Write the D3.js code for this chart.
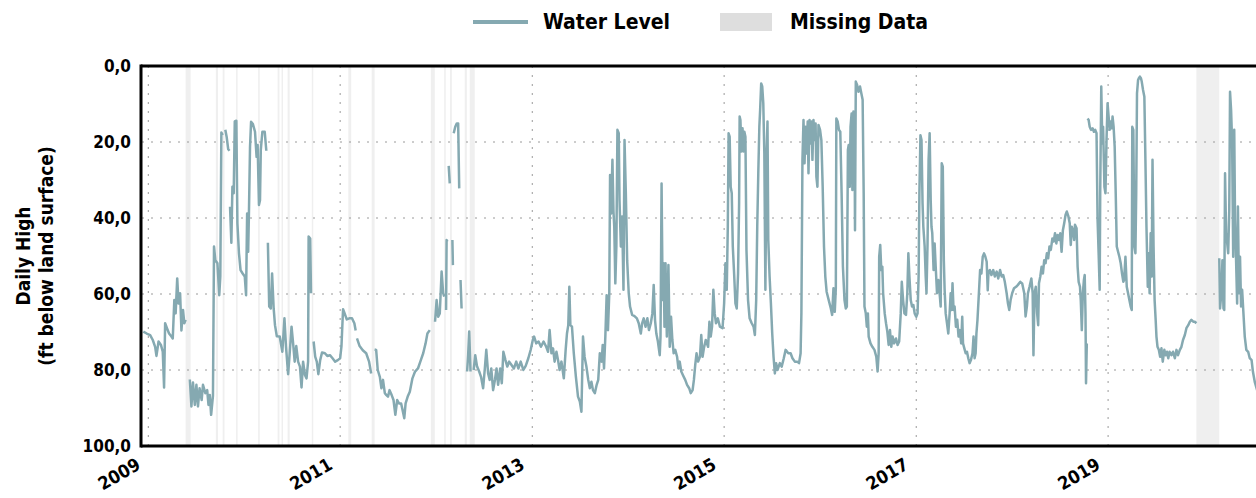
<!DOCTYPE html>
<html>
<head>
<meta charset="utf-8">
<script src="https://cdn.jsdelivr.net/npm/d3@7/dist/d3.min.js"></script>
<style>
  html, body { margin: 0; padding: 0; background: #ffffff; }
  svg { display: block; }
  text { font-family: "DejaVu Sans Condensed", "DejaVu Sans", sans-serif; font-weight: bold; fill: #000; }
</style>
</head>
<body>
<svg id="chart" width="1256" height="498"></svg>
<script>
// ---------- DATA ----------
const dates = [
"2008-12-13","2008-12-26","2009-01-08","2009-01-18","2009-01-27","2009-02-01","2009-02-09","2009-02-18","2009-02-25","2009-03-02",
"2009-03-06","2009-03-13","2009-03-21","2009-03-30","2009-04-04","2009-04-10","2009-04-15","2009-04-21","2009-04-26","2009-05-02",
"2009-05-07","2009-05-13","2009-05-18","2009-05-23","2009-06-01","2009-06-08","2009-06-14","2009-06-20","2009-06-27","2009-07-03",
"2009-07-09","2009-07-15","2009-07-23","2009-07-28","2009-08-06","2009-08-13","2009-08-18","2009-08-23","2009-08-28","2009-09-04",
"2009-09-08","2009-09-13","2009-09-21","2009-09-28","2009-10-02","2009-10-06","2009-10-11","2009-10-15","2009-10-21","2009-10-26",
"2009-11-01","2009-11-06","2009-11-07","2009-11-08","2009-11-13","2009-11-17","2009-11-22","2009-11-26","2009-12-02","2009-12-06",
"2009-12-12","2009-12-18","2009-12-26","2010-01-03","2010-01-08","2010-01-12","2010-01-16","2010-01-19","2010-01-23","2010-01-27",
"2010-02-03","2010-02-11","2010-02-17","2010-02-21","2010-02-26","2010-03-02","2010-03-05","2010-03-11","2010-03-20","2010-03-26",
"2010-03-29","2010-04-01","2010-04-06","2010-04-12","2010-04-17","2010-04-23","2010-04-28","2010-05-05","2010-05-16","2010-05-26",
"2010-06-03","2010-06-09","2010-06-17","2010-06-23","2010-06-30","2010-07-06","2010-07-12","2010-07-18","2010-07-25","2010-08-01",
"2010-08-07","2010-08-13","2010-08-20","2010-08-26","2010-09-01","2010-09-03","2010-09-09","2010-09-12","2010-09-16","2010-09-22",
"2010-09-28","2010-10-04","2010-10-10","2010-10-17","2010-10-24","2010-11-04","2010-11-13","2010-11-23","2010-12-03","2010-12-13",
"2010-12-23","2011-01-01","2011-01-06","2011-01-12","2011-01-18","2011-01-26","2011-02-05","2011-02-15","2011-02-24","2011-03-01",
"2011-03-03","2011-03-06","2011-03-16","2011-03-28","2011-04-10","2011-04-21","2011-04-29","2011-05-05","2011-05-12","2011-05-18",
"2011-05-24","2011-06-01","2011-06-07","2011-06-13","2011-06-20","2011-06-26","2011-07-02","2011-07-08","2011-07-16","2011-07-23",
"2011-07-30","2011-08-06","2011-08-13","2011-08-21","2011-08-26","2011-09-02","2011-09-07","2011-09-15","2011-09-23","2011-10-03",
"2011-10-13","2011-10-24","2011-11-04","2011-11-13","2011-11-22","2011-11-29","2011-12-08","2011-12-18","2011-12-28","2012-01-03",
"2012-01-09","2012-01-15","2012-01-22","2012-01-28","2012-02-01","2012-02-03","2012-02-08","2012-02-10","2012-02-13","2012-02-15",
"2012-02-18","2012-02-22","2012-02-26","2012-03-03","2012-03-05","2012-03-06","2012-03-08","2012-03-14","2012-03-20","2012-03-25",
"2012-03-29","2012-03-31","2012-04-03","2012-04-07","2012-04-15","2012-04-28","2012-05-02","2012-05-06","2012-05-11","2012-05-16",
"2012-05-23","2012-05-29","2012-06-05","2012-06-13","2012-06-20","2012-06-28","2012-07-04","2012-07-10","2012-07-17","2012-07-23",
"2012-07-29","2012-08-05","2012-08-12","2012-08-18","2012-08-24","2012-09-01","2012-09-07","2012-09-13","2012-09-21","2012-09-28",
"2012-10-05","2012-10-14","2012-10-23","2012-11-01","2012-11-09","2012-11-18","2012-11-28","2012-12-07","2012-12-17","2012-12-26",
"2013-01-03","2013-01-08","2013-01-16","2013-01-25","2013-02-03","2013-02-13","2013-02-23","2013-03-02","2013-03-08","2013-03-15",
"2013-03-21","2013-03-27","2013-04-03","2013-04-09","2013-04-15","2013-04-22","2013-05-01","2013-05-08","2013-05-13","2013-05-18",
"2013-05-22","2013-05-26","2013-06-01","2013-06-08","2013-06-16","2013-06-24","2013-07-01","2013-07-07","2013-07-13","2013-07-19",
"2013-07-26","2013-08-02","2013-08-08","2013-08-14","2013-08-20","2013-08-27","2013-09-03","2013-09-09","2013-09-15","2013-09-22",
"2013-09-26","2013-10-01","2013-10-06","2013-10-11","2013-10-16","2013-10-21","2013-10-24","2013-10-28","2013-11-02","2013-11-06",
"2013-11-09","2013-11-13","2013-11-17","2013-11-21","2013-11-26","2013-11-29","2013-12-04","2013-12-09","2013-12-14","2013-12-18",
"2013-12-23","2013-12-28","2014-01-03","2014-01-08","2014-01-16","2014-01-25","2014-02-03","2014-02-10","2014-02-18","2014-02-23",
"2014-03-01","2014-03-08","2014-03-15","2014-03-21","2014-03-28","2014-04-03","2014-04-08","2014-04-13","2014-04-18","2014-04-24",
"2014-05-01","2014-05-04","2014-05-08","2014-05-12","2014-05-16","2014-05-19","2014-05-23","2014-05-28","2014-06-03","2014-06-08",
"2014-06-13","2014-06-18","2014-06-23","2014-06-29","2014-07-06","2014-07-11","2014-07-16","2014-07-22","2014-07-28","2014-08-06",
"2014-08-13","2014-08-21","2014-08-27","2014-09-03","2014-09-08","2014-09-13","2014-09-18","2014-09-24","2014-10-01","2014-10-06",
"2014-10-11","2014-10-16","2014-10-23","2014-11-01","2014-11-06","2014-11-11","2014-11-16","2014-11-21","2014-11-26","2014-12-01",
"2014-12-08","2014-12-16","2014-12-26","2015-01-01","2015-01-06","2015-01-11","2015-01-15","2015-01-18","2015-01-22","2015-01-26",
"2015-01-30","2015-02-03","2015-02-08","2015-02-13","2015-02-18","2015-02-23","2015-02-27","2015-03-01","2015-03-04","2015-03-08",
"2015-03-12","2015-03-16","2015-03-19","2015-03-23","2015-03-27","2015-04-02","2015-04-08","2015-04-16","2015-04-23","2015-04-28",
"2015-05-03","2015-05-07","2015-05-11","2015-05-15","2015-05-18","2015-05-22","2015-05-26","2015-05-30","2015-06-03","2015-06-07",
"2015-06-11","2015-06-15","2015-06-18","2015-06-23","2015-06-28","2015-07-03","2015-07-08","2015-07-13","2015-07-18","2015-07-23",
"2015-08-01","2015-08-08","2015-08-16","2015-08-23","2015-09-02","2015-09-11","2015-09-18","2015-09-27","2015-10-06","2015-10-13",
"2015-10-19","2015-10-22","2015-10-26","2015-10-30","2015-11-03","2015-11-07","2015-11-11","2015-11-15","2015-11-18","2015-11-22",
"2015-11-26","2015-11-30","2015-12-03","2015-12-07","2015-12-11","2015-12-15","2015-12-18","2015-12-22","2015-12-26","2016-01-01",
"2016-01-06","2016-01-11","2016-01-16","2016-01-21","2016-01-26","2016-02-03","2016-02-11","2016-02-16","2016-02-21","2016-02-26",
"2016-03-01","2016-03-03","2016-03-08","2016-03-13","2016-03-18","2016-03-23","2016-03-28","2016-04-03","2016-04-08","2016-04-12",
"2016-04-16","2016-04-19","2016-04-23","2016-04-26","2016-04-30","2016-05-03","2016-05-07","2016-05-11","2016-05-13","2016-05-16",
"2016-05-21","2016-05-26","2016-06-01","2016-06-06","2016-06-11","2016-06-15","2016-06-18","2016-06-23","2016-06-27","2016-07-01",
"2016-07-04","2016-07-11","2016-07-18","2016-07-26","2016-08-02","2016-08-07","2016-08-11","2016-08-13","2016-08-17","2016-08-21",
"2016-08-25","2016-08-28","2016-09-03","2016-09-08","2016-09-13","2016-09-18","2016-09-23","2016-09-28","2016-10-03","2016-10-09",
"2016-10-16","2016-10-22","2016-10-28","2016-11-03","2016-11-07","2016-11-12","2016-11-17","2016-11-23","2016-11-28","2016-12-02",
"2016-12-06","2016-12-11","2016-12-16","2016-12-21","2016-12-26","2017-01-01","2017-01-06","2017-01-10","2017-01-13","2017-01-17",
"2017-01-21","2017-01-25","2017-01-28","2017-02-02","2017-02-06","2017-02-09","2017-02-13","2017-02-17","2017-02-21","2017-02-25",
"2017-02-28","2017-03-03","2017-03-08","2017-03-12","2017-03-16","2017-03-21","2017-03-26","2017-04-01","2017-04-04","2017-04-08",
"2017-04-12","2017-04-16","2017-04-19","2017-04-23","2017-04-28","2017-05-03","2017-05-08","2017-05-12","2017-05-16","2017-05-19",
"2017-05-23","2017-05-27","2017-06-01","2017-06-06","2017-06-11","2017-06-16","2017-06-21","2017-06-25","2017-06-28","2017-07-03",
"2017-07-08","2017-07-13","2017-07-18","2017-07-23","2017-07-28","2017-08-03","2017-08-07","2017-08-11","2017-08-15","2017-08-18",
"2017-08-22","2017-08-26","2017-09-01","2017-09-06","2017-09-11","2017-09-16","2017-09-21","2017-09-26","2017-09-30","2017-10-03",
"2017-10-08","2017-10-14","2017-10-21","2017-10-27","2017-11-03","2017-11-09","2017-11-16","2017-11-22","2017-11-28","2017-12-04",
"2017-12-11","2017-12-16","2017-12-21","2017-12-26","2018-01-01","2018-01-08","2018-01-16","2018-01-23","2018-02-01","2018-02-08",
"2018-02-16","2018-02-21","2018-02-26","2018-03-02","2018-03-08","2018-03-15","2018-03-20","2018-03-23","2018-03-27","2018-04-01",
"2018-04-06","2018-04-10","2018-04-13","2018-04-18","2018-04-23","2018-04-28","2018-05-03","2018-05-08","2018-05-13","2018-05-18",
"2018-05-23","2018-05-28","2018-06-03","2018-06-08","2018-06-13","2018-06-18","2018-06-23","2018-06-28","2018-07-03","2018-07-08",
"2018-07-13","2018-07-18","2018-07-23","2018-07-28","2018-08-03","2018-08-08","2018-08-12","2018-08-16","2018-08-21","2018-08-25",
"2018-08-28","2018-09-03","2018-09-07","2018-09-11","2018-09-16","2018-09-19","2018-09-23","2018-09-27","2018-10-01","2018-10-04",
"2018-10-07","2018-10-09","2018-10-12","2018-10-13","2018-10-15","2018-10-19","2018-10-23","2018-10-28","2018-11-03","2018-11-08",
"2018-11-13","2018-11-18","2018-11-22","2018-11-26","2018-11-30","2018-12-02","2018-12-06","2018-12-10","2018-12-13","2018-12-18",
"2018-12-22","2018-12-26","2018-12-30","2019-01-03","2019-01-07","2019-01-11","2019-01-15","2019-01-18","2019-01-22","2019-01-26",
"2019-01-30","2019-02-03","2019-02-08","2019-02-13","2019-02-18","2019-02-23","2019-02-28","2019-03-03","2019-03-08","2019-03-13",
"2019-03-18","2019-03-23","2019-03-28","2019-04-01","2019-04-03","2019-04-07","2019-04-11","2019-04-15","2019-04-18","2019-04-21",
"2019-04-25","2019-04-28","2019-05-02","2019-05-06","2019-05-09","2019-05-14","2019-05-19","2019-05-23","2019-05-27","2019-06-01",
"2019-06-04","2019-06-08","2019-06-12","2019-06-16","2019-06-19","2019-06-23","2019-06-27","2019-07-01","2019-07-04","2019-07-08",
"2019-07-13","2019-07-18","2019-07-23","2019-07-28","2019-08-03","2019-08-08","2019-08-13","2019-08-18","2019-08-23","2019-08-30",
"2019-09-05","2019-09-12","2019-09-18","2019-09-24","2019-10-01","2019-10-07","2019-10-13","2019-10-20","2019-10-26","2019-11-02",
"2019-11-08","2019-11-14","2019-11-21","2019-11-27","2019-12-03","2020-01-15","2020-02-28","2020-03-02","2020-03-07","2020-03-11",
"2020-03-15","2020-03-18","2020-03-21","2020-03-25","2020-03-28","2020-04-02","2020-04-06","2020-04-09","2020-04-13","2020-04-17",
"2020-04-21","2020-04-25","2020-04-28","2020-05-02","2020-05-06","2020-05-09","2020-05-13","2020-05-17","2020-05-21","2020-05-25",
"2020-05-30","2020-06-04","2020-06-10","2020-06-17","2020-06-23","2020-06-30","2020-07-05","2020-07-12","2020-07-22"
];
const levels = [
69.9,70.4,70.8,72.1,73.9,76.3,72.5,73.4,75.2,84.6,
67.7,69.0,70.4,71.2,71.7,61.6,65.1,55.9,62.5,59.8,
69.6,64.2,67.7,66.8,null,82.5,89.6,83.3,89.2,83.9,
89.6,84.8,87.9,83.9,86.1,85.3,89.2,86.6,91.8,86.8,
47.5,51.1,51.9,60.3,55.4,17.5,18.2,null,16.8,18.6,
21.9,22.3,null,37.0,46.5,31.8,33.5,14.6,14.4,41.4,
49.3,53.7,54.6,55.4,60.3,38.8,48.9,38.3,21.4,14.7,
15.3,17.3,23.9,20.8,36.6,35.3,22.1,17.3,17.3,22.3,
null,46.5,63.3,63.8,54.6,63.8,68.2,71.1,71.2,75.2,
66.4,73.9,81.1,75.6,68.6,73.0,77.8,73.7,77.8,79.1,
84.6,77.8,81.3,82.2,77.8,44.9,45.4,59.8,null,72.5,
76.5,77.8,81.1,77.4,75.4,75.6,76.3,76.1,76.9,77.8,
77.4,76.9,73.7,64.0,65.1,66.7,66.4,66.4,67.7,69.6,
null,71.7,73.7,74.8,75.6,77.8,80.9,null,74.6,74.7,
80.0,81.8,84.8,82.6,86.1,86.6,87.0,85.3,86.6,87.9,
91.8,87.9,88.8,88.8,90.4,92.7,88.8,87.0,85.7,82.2,
80.4,79.6,77.4,75.6,73.0,70.4,69.5,null,67.3,61.6,
66.0,65.1,54.1,59.8,60.7,null,64.2,45.8,46.2,null,
26.3,30.9,null,45.8,52.4,null,17.7,16.0,15.1,15.1,
32.2,null,56.3,63.8,null,80.4,76.1,69.9,80.4,null,
80.0,76.1,79.1,80.4,81.8,84.8,80.0,74.7,80.9,82.6,
79.6,85.3,82.6,79.6,83.9,79.6,83.5,75.2,77.4,79.1,
77.8,78.7,79.6,77.8,79.6,77.8,80.0,78.9,76.9,74.7,
72.1,71.2,73.0,72.5,73.9,72.5,73.9,75.2,69.5,75.6,
74.3,77.8,75.2,77.4,80.0,77.8,82.2,74.7,70.4,68.2,
58.1,68.2,68.6,75.6,81.8,87.0,88.3,91.0,71.2,76.5,
79.1,82.6,84.8,83.1,85.3,86.1,83.9,82.6,75.6,77.8,
73.4,79.6,71.2,60.3,69.5,59.8,28.7,38.8,24.7,38.3,
42.3,57.2,47.5,16.8,17.7,35.3,47.5,39.6,58.9,19.5,
33.5,51.1,59.8,63.3,65.5,65.8,66.4,67.7,70.4,67.7,
66.4,68.6,66.4,69.5,67.7,65.1,57.6,66.8,70.4,72.5,
76.1,71.2,30.9,61.6,51.9,68.6,51.9,71.2,52.4,73.9,
66.0,72.1,75.6,74.7,76.5,79.6,77.8,80.4,81.3,82.6,
83.9,84.8,86.1,85.3,82.6,78.7,75.6,77.8,76.5,70.8,
76.5,74.3,72.1,73.9,67.3,71.2,68.6,58.9,65.1,67.7,
66.4,68.6,69.0,62.5,51.9,58.9,42.3,17.7,18.6,31.8,
33.5,47.5,54.6,62.5,63.8,54.6,36.1,13.3,14.2,22.5,
16.4,22.5,17.3,18.6,48.4,61.6,66.4,67.7,68.6,70.8,
61.6,42.3,28.2,16.0,11.6,4.6,5.4,9.8,23.0,58.9,
24.7,14.6,45.8,55.4,62.5,70.4,76.5,80.9,78.2,80.0,
78.2,79.1,76.9,74.7,75.6,75.6,76.9,77.8,77.8,78.2,
75.6,65.1,24.7,14.2,25.6,16.0,23.0,14.6,28.2,14.2,
20.4,14.6,24.7,14.2,19.5,15.1,29.1,31.8,15.5,16.8,
19.5,31.8,47.5,55.4,59.4,61.6,63.8,65.5,58.5,64.7,
58.5,13.8,14.6,16.8,17.3,33.5,52.8,61.6,63.8,63.3,
22.1,20.8,31.8,16.0,12.5,32.6,12.0,14.2,43.2,4.1,
5.0,6.8,5.4,7.2,8.9,33.5,63.3,65.1,68.6,65.1,
71.2,73.0,73.9,74.7,76.5,80.4,75.6,50.2,47.1,53.7,
52.8,59.8,65.1,67.7,69.9,73.4,69.5,73.9,71.2,73.0,
71.7,73.4,72.5,65.1,56.8,61.6,65.1,65.5,59.8,49.3,
55.4,61.6,63.3,62.9,65.1,66.0,65.1,55.4,33.5,18.2,
19.5,36.1,42.3,47.5,55.4,59.8,46.7,24.7,17.7,35.3,
42.3,44.0,53.7,46.7,52.8,59.8,56.3,60.7,63.3,25.6,
26.5,51.1,58.9,65.1,67.7,70.4,65.1,59.8,64.2,57.2,
64.2,63.3,68.6,66.8,71.2,69.5,73.0,66.0,73.0,74.3,
75.6,75.2,76.9,78.2,77.4,75.6,71.2,76.9,75.6,70.4,
66.8,61.6,53.7,54.6,50.2,49.3,50.2,51.5,59.0,54.1,
53.7,55.0,53.7,55.4,54.1,55.9,53.7,55.4,55.0,56.8,
59.8,62.5,64.2,61.6,59.8,58.5,58.1,57.6,56.8,57.2,
59.8,65.9,63.3,59.8,58.1,55.9,59.8,76.1,59.8,58.1,
65.1,68.2,57.2,55.4,52.8,54.6,51.1,51.9,49.3,50.6,
47.5,48.4,45.4,46.2,44.0,46.7,44.5,45.8,44.0,48.9,
43.2,41.4,39.2,38.3,39.6,41.4,47.1,42.3,43.6,45.8,
41.8,42.7,52.8,56.8,58.1,61.6,69.5,59.8,56.3,55.0,
65.1,83.5,73.0,null,13.8,14.2,16.0,16.8,16.4,17.3,
16.8,17.7,40.5,49.3,58.9,33.5,5.4,20.4,16.0,31.8,
33.5,19.5,9.8,13.3,16.8,14.6,16.4,13.3,16.0,21.2,
33.5,47.5,48.9,50.2,51.9,54.6,56.8,56.3,50.2,58.1,
59.8,61.6,63.3,64.2,16.0,16.8,47.5,49.3,33.5,7.2,
3.7,3.2,2.8,3.2,4.1,6.3,8.1,24.7,42.3,58.1,
49.3,59.8,44.0,55.4,24.7,47.5,61.6,66.8,71.2,73.9,
74.7,76.5,74.3,77.8,74.7,76.1,75.2,76.9,75.2,76.1,
75.2,76.9,74.7,76.1,74.7,73.9,72.1,70.8,69.0,68.2,
67.3,66.8,67.3,67.3,67.7,null,50.6,63.8,59.8,51.1,
63.8,64.2,28.2,44.0,45.8,49.3,37.9,6.8,11.6,20.4,
50.2,16.8,40.5,51.1,62.5,37.0,59.8,50.2,63.3,58.9,
65.1,71.2,74.7,75.2,76.9,77.4,80.4,83.1,85.5
];
const missingStart = ["2009-05-23","2009-09-15","2009-10-11","2009-12-01","2010-02-23","2010-05-08","2010-05-23","2010-06-15","2010-09-15","2011-02-01","2011-05-01","2011-12-12","2012-02-01","2012-02-23","2012-04-19","2012-05-08","2019-12-03"];
const missingEnd   = ["2009-06-11","2009-09-23","2009-10-18","2009-12-04","2010-03-01","2010-05-15","2010-05-27","2010-06-23","2010-09-19","2011-02-12","2011-05-12","2011-12-27","2012-02-04","2012-03-01","2012-04-27","2012-05-27","2020-02-28"];
const yTicks = [0, 20, 40, 60, 80, 100];
const yTickLabels = ["0,0", "20,0", "40,0", "60,0", "80,0", "100,0"];
const xTickDates = ["2009-01-01","2011-01-01","2013-01-01","2015-01-01","2017-01-01","2019-01-01"];
const xTickLabels = ["2009","2011","2013","2015","2017","2019"];
const legendLabels = ["Water Level", "Missing Data"];
const yTitle = ["Daily High", "(ft below land surface)"];

// ---------- DRAW ----------
const parse = d3.utcParse("%Y-%m-%d");
const lineColor = "#85a9b1";
const svg = d3.select("#chart");
const L = 142, T = 66, B = 446, R = 1260;

const x = d3.scaleUtc().domain([parse("2008-12-08"), parse("2020-08-01")]).range([L, R]);
const y = d3.scaleLinear().domain([0, 100]).range([T, B]);

const data = dates.map((d, i) => ({ date: parse(d), value: levels[i] }));

svg.append("defs").append("clipPath").attr("id", "plotclip")
  .append("rect").attr("x", L).attr("y", T).attr("width", R - L).attr("height", B - T);

const plot = svg.append("g").attr("clip-path", "url(#plotclip)");

// missing data bands
plot.selectAll("rect.miss").data(missingStart.map((s, i) => [parse(s), parse(missingEnd[i])]))
  .enter().append("rect").attr("class", "miss")
  .attr("x", d => x(d[0])).attr("width", d => Math.max(1.5, x(d[1]) - x(d[0])))
  .attr("y", T).attr("height", B - T)
  .attr("fill", "#efefef");

// gridlines
plot.selectAll("line.hg").data(yTicks.filter(v => v > 0 && v < 100)).enter().append("line")
  .attr("x1", L).attr("x2", R).attr("y1", d => y(d)).attr("y2", d => y(d))
  .attr("stroke", "#9a9a9a").attr("stroke-width", 1).attr("stroke-dasharray", "2,7");
plot.selectAll("line.vg").data(xTickDates).enter().append("line")
  .attr("x1", d => x(parse(d))).attr("x2", d => x(parse(d))).attr("y1", T).attr("y2", B)
  .attr("stroke", "#9a9a9a").attr("stroke-width", 1).attr("stroke-dasharray", "2,7");

// water level line
const line = d3.line().defined(d => d.value !== null)
  .x(d => x(d.date)).y(d => y(d.value));
plot.append("path").datum(data).attr("d", line)
  .attr("fill", "none").attr("stroke", lineColor).attr("stroke-width", 2.5)
  .attr("stroke-linejoin", "round");

// frame
const fr = svg.append("g").attr("stroke", "#000").attr("stroke-width", 3).attr("fill", "none");
fr.append("line").attr("x1", L - 1).attr("x2", L - 1).attr("y1", T - 1.5).attr("y2", B + 1.5);
fr.append("line").attr("x1", L - 1).attr("x2", 1256).attr("y1", T).attr("y2", T);
fr.append("line").attr("x1", L - 1).attr("x2", 1256).attr("y1", B).attr("y2", B);

// y tick labels
svg.selectAll("text.yt").data(yTicks).enter().append("text")
  .attr("x", 131).attr("y", d => y(d)).attr("dy", "0.36em")
  .attr("text-anchor", "end").attr("font-size", 17)
  .text((d, i) => yTickLabels[i]);

// x tick labels
svg.selectAll("text.xt").data(xTickDates).enter().append("text")
  .attr("transform", d => `translate(${x(parse(d)) - 13},${B + 11}) rotate(-30)`)
  .attr("text-anchor", "end").attr("dy", "0.72em").attr("font-size", 18)
  .text((d, i) => xTickLabels[i]);

// y axis title
svg.append("text").attr("transform", `translate(23,${(T + B) / 2}) rotate(-90)`)
  .attr("text-anchor", "middle").attr("dy", "0.35em").attr("font-size", 19).text(yTitle[0]);
svg.append("text").attr("transform", `translate(46,${(T + B) / 2}) rotate(-90)`)
  .attr("text-anchor", "middle").attr("dy", "0.35em").attr("font-size", 19).text(yTitle[1]);

// legend
const lg = svg.append("g");
lg.append("line").attr("x1", 473).attr("x2", 528).attr("y1", 22).attr("y2", 22)
  .attr("stroke", lineColor).attr("stroke-width", 4);
lg.append("text").attr("x", 543).attr("y", 22).attr("dy", "0.35em").attr("font-size", 21).text(legendLabels[0]);
lg.append("rect").attr("x", 720).attr("y", 13).attr("width", 52).attr("height", 18).attr("fill", "#dedede");
lg.append("text").attr("x", 790).attr("y", 22).attr("dy", "0.35em").attr("font-size", 21).text(legendLabels[1]);
</script>
</body>
</html>
